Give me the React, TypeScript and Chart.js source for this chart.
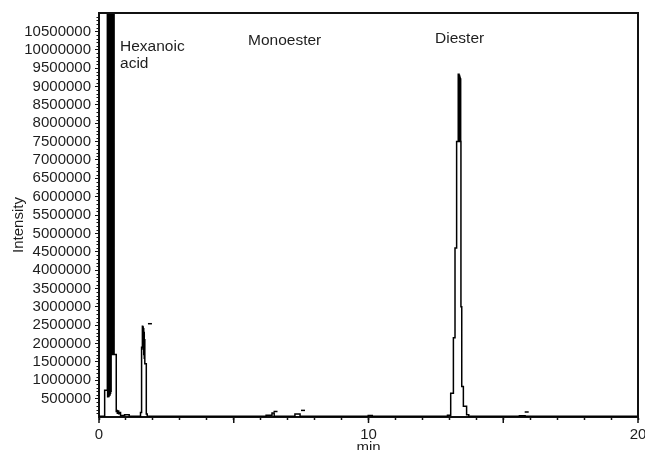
import { useEffect, useRef } from 'react';
import { Chart, registerables } from 'chart.js';

Chart.register(...registerables);

// Retention time (min) at which each level of the stepped trace begins
const retentionTime = [
  0.0, 0.21, 0.31, 0.32, 0.33, 0.34, 0.35, 0.36, 0.37, 0.38, 0.39, 0.4, 0.41, 0.42, 0.43, 0.44, 0.45,
  0.46, 0.47, 0.48, 0.49, 0.5, 0.51, 0.52, 0.53, 0.54, 0.55, 0.56, 0.64, 0.66, 0.68, 0.7, 0.73, 0.77,
  0.8, 0.95, 1.12,
  1.54, 1.58, 1.61, 1.62, 1.63, 1.64, 1.65, 1.66, 1.67, 1.68, 1.69, 1.7, 1.755, 1.79,
  6.2, 6.42, 6.5, 7.27, 7.46, 9.99, 10.14,
  12.93, 13.05, 13.15, 13.21, 13.27, 13.33, 13.34, 13.35, 13.36, 13.37, 13.38, 13.39, 13.4, 13.41,
  13.42, 13.43, 13.46, 13.52, 13.64, 13.72, 15.6, 15.81, 20.0,
];
// Detector intensity for each level
const intensity = [
  20000, 730000, 13000000, 550000, 13000000, 580000, 13000000, 560000, 13000000, 620000, 13000000,
  600000, 13000000, 650000, 13000000, 700000, 13000000, 1700000, 13000000, 1720000, 13000000, 1700000,
  13000000, 1750000, 13000000, 1700000, 13000000, 1700000, 150000, 180000, 100000, 160000, 90000, 120000,
  40000, 60000, 20000,
  120000, 1900000, 2470000, 1900000, 2450000, 1850000, 2400000, 1700000, 2300000, 1600000, 2100000,
  1450000, 80000, 20000,
  50000, 110000, 20000, 80000, 20000, 40000, 20000,
  50000, 650000, 2160000, 4600000, 7500000, 9330000, 7500000, 9330000, 7550000, 9300000, 7500000,
  9250000, 7550000, 9200000, 7500000, 3000000, 830000, 290000, 60000, 20000, 35000, 20000, 20000,
];

// Peak marks (small dashes)
const markerTime = [1.89, 6.55, 7.57, 15.87];
const markerIntensity = [2540000, 150000, 180000, 136000];

// Axis ticks
const xTickValues = [0, 1, 2, 3, 4, 5, 6, 7, 8, 9, 10, 11, 12, 13, 14, 15, 16, 17, 18, 19, 20];
const xTickLabels = [0, 10, 20];
const xMajorTicks = [0, 5, 10, 15, 20];
const yTickLabels = [
  500000, 1000000, 1500000, 2000000, 2500000, 3000000, 3500000, 4000000, 4500000, 5000000, 5500000,
  6000000, 6500000, 7000000, 7500000, 8000000, 8500000, 9000000, 9500000, 10000000, 10500000,
];

// Peak names and their anchor (left, baseline) in data coordinates
const peakNames = [['Hexanoic', 'acid'], ['Monoester'], ['Diester']];
const peakLabelTime = [0.78, 5.53, 12.47];
const peakLabelIntensity = [9970000, 10130000, 10190000];

const FONT = '"Liberation Sans", Arial, Helvetica, sans-serif';
const INK = '#111';
const TEXT = '#1e1e1e';

const decorPlugin = {
  id: 'decor',
  afterDraw(chart: any) {
    const { ctx, chartArea: a, scales } = chart;
    const x = scales.x;
    const y = scales.y;
    ctx.save();
    // frame (top and right)
    ctx.strokeStyle = INK;
    ctx.lineWidth = 2;
    ctx.beginPath();
    ctx.moveTo(a.left - 1, a.top);
    ctx.lineTo(a.right, a.top);
    ctx.lineTo(a.right, a.bottom);
    ctx.stroke();
    // y minor ticks
    ctx.lineWidth = 1;
    ctx.beginPath();
    for (let v = 100000; v < 11000000; v += 100000) {
      if (v % 500000 === 0) continue;
      const py = Math.round(y.getPixelForValue(v)) + 0.5;
      ctx.moveTo(a.left - 2.5, py);
      ctx.lineTo(a.left, py);
    }
    ctx.stroke();
    // x major ticks (longer)
    ctx.lineWidth = 1.5;
    ctx.beginPath();
    for (const v of xMajorTicks) {
      const px = x.getPixelForValue(v);
      ctx.moveTo(px, a.bottom);
      ctx.lineTo(px, a.bottom + 6);
    }
    ctx.stroke();
    // peak labels
    ctx.fillStyle = TEXT;
    ctx.font = `15.5px ${FONT}`;
    ctx.textAlign = 'left';
    ctx.textBaseline = 'alphabetic';
    peakNames.forEach((lines, i) => {
      const px = x.getPixelForValue(peakLabelTime[i]);
      const py = y.getPixelForValue(peakLabelIntensity[i]);
      lines.forEach((t, j) => ctx.fillText(t, px, py + j * 17.6));
    });
    // axis titles
    ctx.font = `15px ${FONT}`;
    ctx.textAlign = 'center';
    ctx.textBaseline = 'alphabetic';
    ctx.fillText('min', (a.left + a.right) / 2, 452);
    ctx.save();
    ctx.translate(23, 225);
    ctx.rotate(-Math.PI / 2);
    ctx.fillText('Intensity', 0, 0);
    ctx.restore();
    ctx.restore();
  },
};

export default function App() {
  const ref = useRef<HTMLCanvasElement | null>(null);
  useEffect(() => {
    document.body.style.margin = '0';
    if (!ref.current) return;
    Chart.defaults.font.family = FONT;
    const trace = retentionTime.map((t, i) => ({ x: t, y: intensity[i] }));
    const marks = markerTime.map((t, i) => ({ x: t, y: markerIntensity[i] }));
    const chart = new Chart(ref.current, {
      type: 'line',
      data: {
        datasets: [
          {
            label: 'Intensity',
            data: trace,
            stepped: 'before',
            borderColor: '#000',
            borderWidth: 1.5,
            pointRadius: 0,
            fill: false,
          },
          {
            label: 'Peak marks',
            data: marks,
            showLine: false,
            pointStyle: 'line',
            pointRadius: 2,
            borderColor: '#000',
            borderWidth: 1.5,
          },
        ],
      },
      options: {
        animation: false,
        responsive: false,
        events: [],
        layout: { padding: { top: 13, right: 7, left: 0, bottom: 0 } },
        plugins: { legend: { display: false }, tooltip: { enabled: false }, title: { display: false } },
        scales: {
          x: {
            type: 'linear',
            min: 0,
            max: 20,
            afterBuildTicks: (s: any) => {
              s.ticks = xTickValues.map((v) => ({ value: v }));
            },
            afterFit: (s: any) => {
              s.height = 33;
              s.paddingLeft = 0;
              s.paddingRight = 0;
            },
            ticks: {
              autoSkip: false,
              maxRotation: 0,
              padding: 6,
              color: TEXT,
              font: { size: 15, family: FONT },
              callback: (v: any) => (xTickLabels.includes(Number(v)) ? String(v) : ''),
            },
            grid: { drawOnChartArea: false, drawTicks: true, tickLength: 3, tickWidth: 1.5, tickColor: INK },
            border: { display: true, color: INK, width: 2 },
          },
          y: {
            type: 'linear',
            min: 0,
            max: 11000000,
            afterBuildTicks: (s: any) => {
              s.ticks = yTickLabels.map((v) => ({ value: v }));
            },
            afterFit: (s: any) => {
              s.width = 99;
            },
            ticks: {
              autoSkip: false,
              padding: 4,
              color: TEXT,
              font: { size: 15, family: FONT },
              callback: (v: any) => String(v),
            },
            grid: { drawOnChartArea: false, drawTicks: true, tickLength: 4, tickWidth: 1, tickColor: INK },
            border: { display: true, color: INK, width: 2 },
          },
        },
      },
      plugins: [decorPlugin],
    });
    return () => chart.destroy();
  }, []);
  return (
    <div style={{ width: 645, height: 450 }}>
      <canvas ref={ref} width={645} height={450} style={{ display: 'block' }} />
    </div>
  );
}
